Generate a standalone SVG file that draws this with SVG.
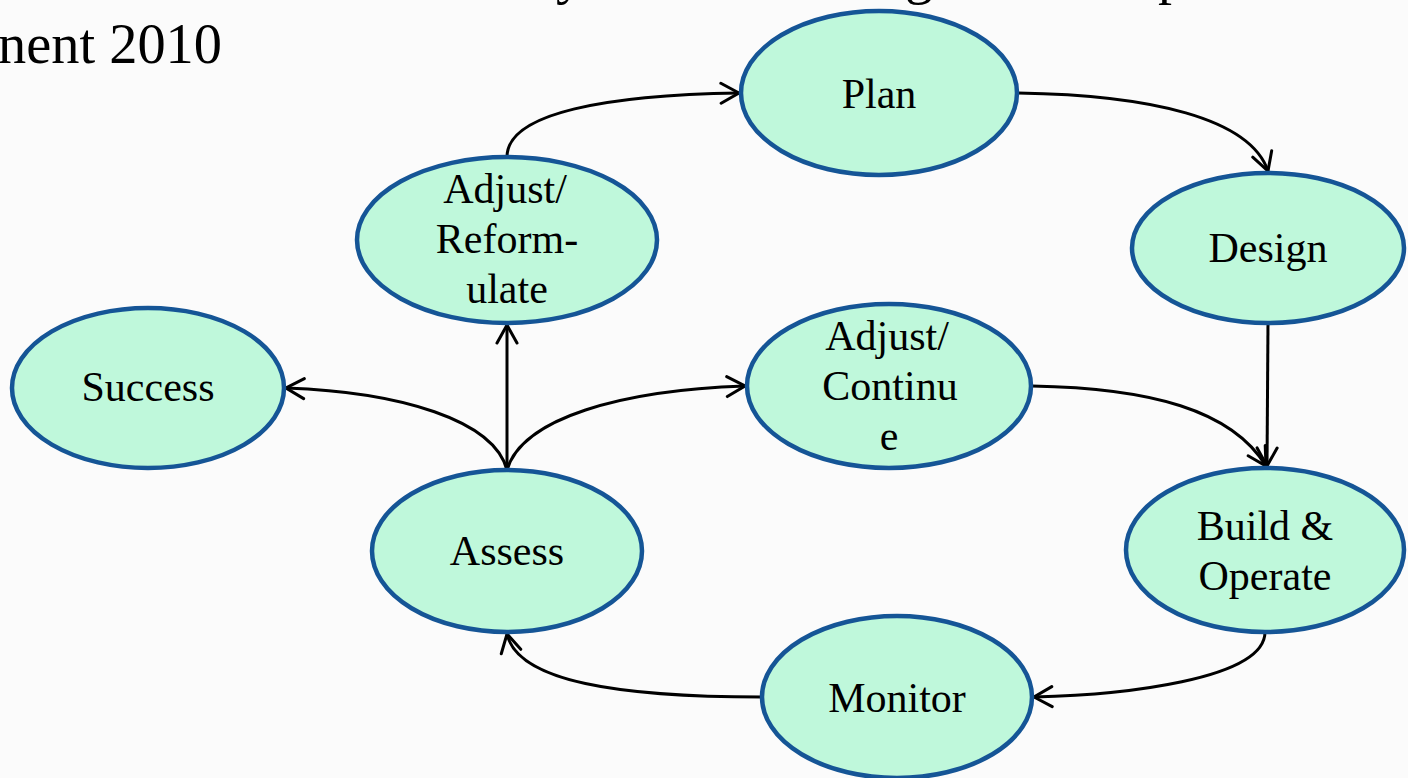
<svg xmlns="http://www.w3.org/2000/svg" width="1408" height="778" viewBox="0 0 1408 778">
<defs>
<style>
.node ellipse{fill:#bff8db;stroke:#155596;stroke-width:4.5}
.node text{font-family:"Liberation Serif","DejaVu Serif",serif;font-size:42px;fill:#000;text-anchor:middle}
.title{font-family:"Liberation Serif","DejaVu Serif",serif;font-size:56px;fill:#000}
#connectors path{fill:none;stroke:#000;stroke-width:3;marker-end:url(#arr)}
</style>
<marker id="arr" markerUnits="userSpaceOnUse" markerWidth="26" markerHeight="26" viewBox="0 0 26 26" refX="23" refY="13" orient="auto">
<path d="M5,3 L23,13 L5,23" fill="none" stroke="#000" stroke-width="3" stroke-linecap="round" stroke-linejoin="miter"/>
</marker>
</defs>
<rect width="1408" height="778" fill="#fbfbfb"/>
<g id="title">
<text class="title" x="556" y="-7">y</text>
<text class="title" x="905" y="-7">g</text>
<text class="title" x="1158" y="-7">p</text>
<text class="title" x="-2" y="63" textLength="224" lengthAdjust="spacingAndGlyphs">nent 2010</text>
</g>
<g id="connectors">
<path d="M507,157 C507,112 610,95 739,93"/>
<path d="M1018,93 C1150,95 1250,118 1268,171"/>
<path d="M1268,322 L1267,466"/>
<path d="M1032,386 C1150,388 1232,410 1266,466"/>
<path d="M1265,632 C1265,680 1120,695 1034,697"/>
<path d="M762,697 C620,697 518,682 507,634"/>
<path d="M507,470 L507,325"/>
<path d="M507,470 C522,418 622,390 745,386"/>
<path d="M507,470 C494,420 400,392 286,388"/>
</g>
<g id="plan" class="node"><ellipse cx="879" cy="93" rx="138" ry="82"/><text x="879" y="108">Plan</text></g>
<g id="design" class="node"><ellipse cx="1268" cy="248" rx="136" ry="75"/><text x="1268" y="262">Design</text></g>
<g id="adjust-reformulate" class="node"><ellipse cx="507" cy="240" rx="150" ry="83"/><text x="505" y="203">Adjust/</text><text x="507" y="253">Reform-</text><text x="507" y="303">ulate</text></g>
<g id="success" class="node"><ellipse cx="148" cy="388" rx="136" ry="80"/><text x="148" y="401">Success</text></g>
<g id="adjust-continue" class="node"><ellipse cx="889" cy="386" rx="142" ry="82"/><text x="887" y="350">Adjust/</text><text x="890" y="400">Continu</text><text x="889" y="450">e</text></g>
<g id="assess" class="node"><ellipse cx="507" cy="551" rx="135" ry="81"/><text x="507" y="565">Assess</text></g>
<g id="build-operate" class="node"><ellipse cx="1265" cy="550" rx="139" ry="82"/><text x="1265" y="540">Build &amp;</text><text x="1265" y="590">Operate</text></g>
<g id="monitor" class="node"><ellipse cx="897" cy="697" rx="135" ry="81"/><text x="897" y="712">Monitor</text></g>
</svg>
